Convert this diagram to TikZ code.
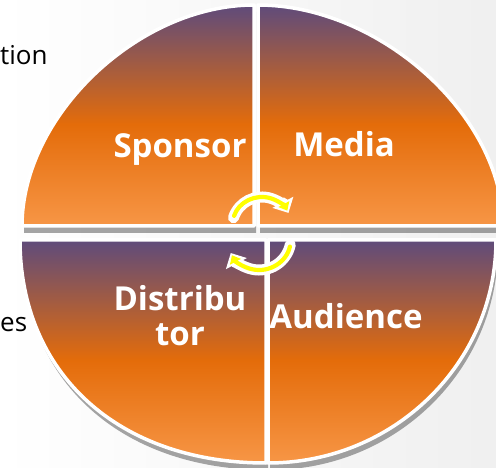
\documentclass[tikz,border=0pt]{standalone}
\usepackage{fontspec}
\setmainfont{Open Sans}
\usetikzlibrary{shadows,arrows.meta}
\definecolor{purp}{HTML}{5F4B7B}
\definecolor{dorng}{HTML}{E46C0A}
\definecolor{lorng}{HTML}{F79646}
\definecolor{arrowyel}{HTML}{FFFF00}
\pgfdeclareverticalshading{pieceshade}{100bp}{color(0bp)=(lorng); color(25bp)=(lorng); color(48bp)=(dorng); color(75bp)=(purp); color(100bp)=(purp)}
\begin{document}
\begin{tikzpicture}[x=1pt,y=-1pt,
  piece/.style={draw=white, line width=3.5pt, line join=round, shading=pieceshade,
    drop shadow={shadow xshift=2pt, shadow yshift=-7pt, opacity=0.5, fill=black!70}},
  lbl/.style={text=white, font=\fontsize{33}{35}\selectfont\bfseries, anchor=base, align=center, inner sep=0pt},
  side/.style={text=black, font=\fontsize{26}{30}\selectfont, anchor=base west, inner sep=0pt},
  arrw/.style={line width=11pt, white, line cap=round, -{Triangle[length=12pt,width=23pt]}},
  arry/.style={line width=4.2pt, arrowyel, line cap=round, -{Triangle[length=7.5pt,width=12pt]}, shorten >=2.5pt, shorten <=2pt}]
\useasboundingbox (0,0) rectangle (496,468);
\clip (0,0) rectangle (496,468);
\fill[left color=white, right color=black!6] (0,0) rectangle (496,468);

% side texts (partially visible)
\node[side] (tion) at (0,65) {tion};
\node[side] (es) at (0,331) {es};

% bottom pieces
\path[piece] (266,240) -- (20,240) .. controls (20,373) and (118,463) .. (266,463) -- cycle;
\path[piece] (268,240) -- (496,240) .. controls (496,363) and (394,463) .. (268,463) -- cycle;
% top pieces
\path[piece] (254,226) -- (22,226) .. controls (22,116) and (138,5) .. (254,5) -- cycle;
\path[piece] (258,226) -- (258,5) .. controls (380,5) and (503,116) .. (503,226) -- cycle;

% labels
\node[lbl] (sponsor) at (180,158) {Sponsor};
\node[lbl] (media) at (344,157) {Media};
\node[lbl] (distributor) at (180,345) {Distribu\\tor};
\node[lbl] (audience) at (346,328) {Audience};

% cycle arrows
\coordinate (tc) at (262,227);
\coordinate (bc) at (259,238);
\draw[arrw] (tc) ++(198:30) arc[start angle=198, end angle=332, radius=30];
\draw[arry] (tc) ++(198:30) arc[start angle=198, end angle=332, radius=30];
\draw[arrw] (bc) ++(12:32) arc[start angle=12, end angle=152, radius=32];
\draw[arry] (bc) ++(12:32) arc[start angle=12, end angle=152, radius=32];
\end{tikzpicture}
\end{document}
